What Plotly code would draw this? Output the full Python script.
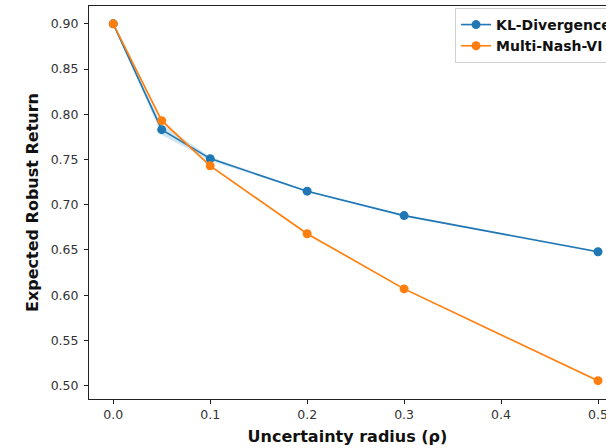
import plotly.graph_objects as go

rho = [0.0, 0.05, 0.1, 0.2, 0.3, 0.5]
kl_values = [0.900, 0.783, 0.751, 0.715, 0.688, 0.648]
kl_std = [0.0, 0.006, 0.002, 0.001, 0.001, 0.001]
nash_values = [0.900, 0.793, 0.743, 0.668, 0.607, 0.5055]
nash_std = [0.0, 0.002, 0.001, 0.001, 0.001, 0.001]

x_ticks = [0.0, 0.1, 0.2, 0.3, 0.4, 0.5]
y_ticks = [0.50, 0.55, 0.60, 0.65, 0.70, 0.75, 0.80, 0.85, 0.90]

BLUE = "#1f77b4"
ORANGE = "#ff7f0e"

fig = go.Figure()

def band(vals, std, color_rgba):
    upper = [v + s for v, s in zip(vals, std)]
    lower = [v - s for v, s in zip(vals, std)]
    fig.add_trace(go.Scatter(x=rho + rho[::-1], y=upper + lower[::-1], fill="toself",
                             fillcolor=color_rgba, line=dict(width=0), mode="lines",
                             hoverinfo="skip", showlegend=False))

band(kl_values, kl_std, "rgba(31,119,180,0.2)")
band(nash_values, nash_std, "rgba(255,127,14,0.2)")

fig.add_trace(go.Scatter(x=rho, y=kl_values, mode="lines+markers", name="KL-Divergence",
                         line=dict(color=BLUE, width=1.6), marker=dict(color=BLUE, size=9),
                         cliponaxis=False))
fig.add_trace(go.Scatter(x=rho, y=nash_values, mode="lines+markers", name="Multi-Nash-VI",
                         line=dict(color=ORANGE, width=1.6), marker=dict(color=ORANGE, size=9),
                         cliponaxis=False))

fig.update_layout(
    width=606, height=448,
    margin=dict(l=89, r=0, t=6, b=49, autoexpand=False),
    paper_bgcolor="white", plot_bgcolor="white",
    font=dict(family="DejaVu Sans", size=12.5, color="#333"),
    legend=dict(x=0.708, y=0.995, xanchor="left", yanchor="top",
                bgcolor="rgba(255,255,255,0.85)", bordercolor="#d0d0d0", borderwidth=1,
                font=dict(family="DejaVu Sans", size=14, color="#111", weight="bold"),
                tracegroupgap=0, itemwidth=30),
    showlegend=True,
)

fig.update_xaxes(range=[-0.025, 0.50825], tickvals=x_ticks, tickformat=".1f",
                 ticklabeloverflow="allow",
                 showgrid=False, zeroline=False, showline=True, linecolor="#222", linewidth=1,
                 mirror=True, ticks="outside", ticklen=4, tickcolor="#222",
                 title=dict(text="Uncertainty radius (ρ)", standoff=9,
                            font=dict(family="DejaVu Sans", size=16, color="#111", weight="bold")))
fig.update_yaxes(range=[0.48525, 0.91975], tickvals=y_ticks, tickformat=".2f",
                 showgrid=False, zeroline=False, showline=True, linecolor="#222", linewidth=1,
                 ticks="outside", ticklen=4, tickcolor="#222", ticklabelstandoff=3,
                 title=dict(text="Expected Robust Return", standoff=8,
                            font=dict(family="DejaVu Sans", size=16, color="#111", weight="bold")))

fig.write_html("out.html", config={"displayModeBar": False},
               post_script="document.body.style.margin='0';document.body.style.overflow='hidden';")
